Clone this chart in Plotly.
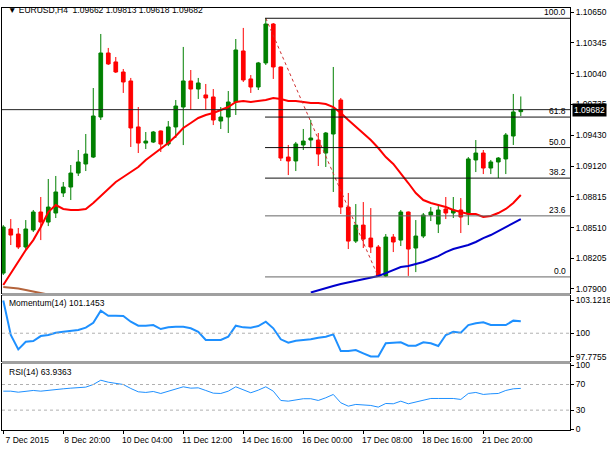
import plotly.graph_objects as go
from plotly.subplots import make_subplots

# EURUSD H4 bars (oldest first)
opens = [1.08058, 1.08496, 1.08446, 1.08317, 1.08486, 1.08665, 1.08565, 1.08655, 1.08854, 1.08913,
         1.09052, 1.09142, 1.09211, 1.09609, 1.10245, 1.10156, 1.10056, 1.09967, 1.09510, 1.09350,
         1.09360, 1.09470, 1.09340, 1.09510, 1.09708, 1.09967, 1.09887, 1.09828, 1.09808, 1.09569,
         1.09609, 1.09758, 1.10265, 1.09987, 1.09907, 1.10146, 1.10533, 1.10106, 1.09211, 1.09172,
         1.09331, 1.09380, 1.09380, 1.09251, 1.09440, 1.09778, 1.08714, 1.08376, 1.08535, 1.08406,
         1.08317, 1.08030, 1.08416, 1.08386, 1.08665, 1.08307, 1.08426, 1.08635, 1.08545, 1.08695,
         1.08655, 1.08685, 1.08645, 1.09182, 1.09251, 1.09102, 1.09162, 1.09192, 1.09420, 1.09662]
highs = [1.08535, 1.08595, 1.08506, 1.08585, 1.08685, 1.08814, 1.08993, 1.09023, 1.08963, 1.09132,
         1.09281, 1.09440, 1.09897, 1.10434, 1.10295, 1.10205, 1.10086, 1.09997, 1.09708, 1.09460,
         1.09470, 1.09475, 1.09569, 1.09778, 1.10305, 1.10076, 1.09997, 1.09937, 1.09887, 1.09708,
         1.09867, 1.10384, 1.10494, 1.10026, 1.10156, 1.10590, 1.10543, 1.10110, 1.09331, 1.09361,
         1.09490, 1.09579, 1.09450, 1.09460, 1.10106, 1.09798, 1.08854, 1.08744, 1.08764, 1.08704,
         1.08337, 1.08446, 1.08446, 1.08685, 1.08670, 1.08585, 1.08655, 1.08714, 1.08734, 1.08814,
         1.08814, 1.08804, 1.09211, 1.09380, 1.09281, 1.09182, 1.09211, 1.09450, 1.09838, 1.09813]
lows = [1.08039, 1.08337, 1.08297, 1.08287, 1.08466, 1.08386, 1.08525, 1.08605, 1.08814, 1.08784,
        1.09023, 1.09072, 1.09201, 1.09579, 1.10126, 1.10046, 1.09848, 1.09311, 1.09251, 1.09291,
        1.09350, 1.09261, 1.09320, 1.09400, 1.09330, 1.09679, 1.09788, 1.09679, 1.09529, 1.09490,
        1.09450, 1.09629, 1.09957, 1.09848, 1.09877, 1.10126, 1.09987, 1.09172, 1.09032, 1.09072,
        1.09281, 1.09310, 1.09122, 1.09112, 1.08864, 1.08645, 1.08297, 1.08357, 1.08307, 1.08257,
        1.08020, 1.08020, 1.08267, 1.08327, 1.08030, 1.08068, 1.08406, 1.08575, 1.08456, 1.08595,
        1.08605, 1.08456, 1.08535, 1.09062, 1.09042, 1.09042, 1.09003, 1.09042, 1.09331, 1.09618]
closes = [1.08516, 1.08436, 1.08317, 1.08496, 1.08665, 1.08565, 1.08714, 1.08864, 1.08913, 1.09052,
          1.09162, 1.09241, 1.09619, 1.10245, 1.10136, 1.10056, 1.09957, 1.09500, 1.09350, 1.09370,
          1.09460, 1.09340, 1.09510, 1.09718, 1.09967, 1.09887, 1.09947, 1.09798, 1.09579, 1.09609,
          1.09758, 1.10275, 1.09977, 1.09907, 1.10146, 1.10533, 1.10106, 1.09201, 1.09172, 1.09341,
          1.09370, 1.09400, 1.09241, 1.09450, 1.09689, 1.08714, 1.08376, 1.08535, 1.08396, 1.08317,
          1.08030, 1.08416, 1.08367, 1.08665, 1.08297, 1.08426, 1.08635, 1.08665, 1.08685, 1.08655,
          1.08685, 1.08615, 1.09192, 1.09251, 1.09102, 1.09162, 1.09201, 1.09430, 1.09659, 1.09682]

# moving averages as drawn (red fast, blue slow, brown slowest)
ma_red = [1.07939, 1.08058, 1.08168, 1.08287, 1.08386, 1.08516, 1.08665, 1.08734, 1.08695, 1.08685,
          1.08685, 1.08695, 1.08754, 1.08824, 1.08903, 1.08963, 1.09013, 1.09062, 1.09112, 1.09182,
          1.09241, 1.09291, 1.09351, 1.09420, 1.09500, 1.09549, 1.09599, 1.09629, 1.09649, 1.09679,
          1.09708, 1.09758, 1.09768, 1.09758, 1.09768, 1.09778, 1.09798, 1.09788, 1.09768, 1.09768,
          1.09758, 1.09748, 1.09748, 1.09738, 1.09708, 1.09649, 1.09579, 1.09510, 1.09450, 1.09380,
          1.09301, 1.09211, 1.09142, 1.09052, 1.08953, 1.08854, 1.08784, 1.08754, 1.08734, 1.08714,
          1.08685, 1.08665, 1.08645, 1.08645, 1.08615, 1.08625, 1.08655, 1.08695, 1.08754, 1.08834]
ma_blue = [None] * 41 + [1.07865, 1.07884, 1.07904, 1.07929, 1.07949, 1.07964, 1.07979, 1.07994, 1.08009,
                         1.08029, 1.08058, 1.08088, 1.08118, 1.08128, 1.08148, 1.08168, 1.08198, 1.08227,
                         1.08267, 1.08297, 1.08317, 1.08337, 1.08367, 1.08406, 1.08436, 1.08476, 1.08516,
                         1.08555, 1.08595]
ma_brown = [1.07919, 1.07914, 1.07904, 1.07889, 1.07874, 1.07859, 1.07845] + [None] * 63

momentum = [103.1218, 99.83, 98.46, 99.19, 99.26, 99.73, 99.83, 100.05, 100.14, 100.21,
            100.31, 100.53, 101.00, 102.15, 101.67, 101.67, 101.64, 101.10, 100.72, 100.72,
            100.78, 100.40, 100.56, 100.62, 100.62, 100.47, 100.14, 99.35, 99.35, 99.35,
            99.67, 100.72, 100.56, 100.53, 100.69, 101.10, 100.47, 99.42, 99.10, 99.29,
            99.35, 99.42, 99.57, 99.67, 99.89, 98.30, 98.30, 98.40, 98.08, 97.7755,
            97.78, 99.04, 99.10, 99.13, 98.81, 98.81, 99.13, 99.04, 98.78, 99.83,
            100.14, 100.05, 100.78, 100.95, 101.04, 100.78, 100.78, 100.78, 101.20, 101.1453]
rsi = [59.6, 59.6, 58.0, 59.1, 60.7, 59.6, 61.2, 62.2, 63.3, 64.3,
       65.4, 65.9, 70.0, 76.7, 73.6, 72.1, 70.0, 63.8, 58.6, 57.6,
       59.1, 56.0, 59.1, 62.7, 66.4, 64.3, 64.8, 60.7, 56.5, 56.0,
       59.6, 66.4, 61.2, 57.1, 61.2, 66.4, 59.6, 45.1, 44.0, 45.6,
       47.8, 47.8, 45.1, 49.3, 54.5, 41.5, 36.2, 38.9, 37.8, 37.3,
       34.7, 40.4, 39.9, 44.0, 39.9, 42.5, 45.6, 48.2, 48.2, 48.2,
       48.2, 46.7, 56.0, 57.6, 54.5, 55.5, 56.0, 60.7, 63.3, 63.9363]

time_labels = ["7 Dec 2015", "8 Dec 20:00", "10 Dec 04:00", "11 Dec 12:00", "14 Dec 16:00",
               "16 Dec 00:00", "17 Dec 08:00", "18 Dec 16:00", "21 Dec 20:00"]
price_ticks = [1.10650, 1.10345, 1.10040, 1.09735, 1.09430, 1.09120, 1.08815, 1.08510, 1.08205, 1.07900]
fib_ratios = [100.0, 61.8, 50.0, 38.2, 23.6, 0.0]

bars = list(range(len(closes)))
FONT = "Liberation Sans"
FS = 8.5
X_RANGE = [-0.17, 75.56]

fig = make_subplots(rows=3, cols=1, shared_xaxes=True)

fig.add_trace(go.Candlestick(
    x=bars, open=opens, high=highs, low=lows, close=closes,
    increasing=dict(line=dict(color="#008000", width=1), fillcolor="#008000"),
    decreasing=dict(line=dict(color="#ff0000", width=1), fillcolor="#ff0000"),
    whiskerwidth=0, showlegend=False), row=1, col=1)

fig.add_trace(go.Scatter(x=bars, y=ma_brown, mode="lines", line=dict(color="#b4643c", width=2),
                         showlegend=False), row=1, col=1)
fig.add_trace(go.Scatter(x=bars, y=ma_blue, mode="lines", line=dict(color="#0000cd", width=2),
                         showlegend=False), row=1, col=1)
fig.add_trace(go.Scatter(x=bars, y=ma_red, mode="lines", line=dict(color="#ff0000", width=2),
                         showlegend=False), row=1, col=1)

# fibonacci retracement from swing high to swing low
hi_val = max(highs)
lo_val = min(lows)
hi_idx = highs.index(hi_val)
lo_idx = lows.index(lo_val)
fig.add_trace(go.Scatter(x=[hi_idx, lo_idx], y=[hi_val, lo_val], mode="lines",
                         line=dict(color="#d03030", width=1, dash="dot"), showlegend=False),
              row=1, col=1)

for r in fib_ratios:
    lvl = lo_val + (hi_val - lo_val) * r / 100
    col = "#111111" if r > 30 else "#666666"
    fig.add_shape(type="line", xref="x", yref="y", x0=hi_idx - 0.1, x1=X_RANGE[1], y0=lvl, y1=lvl,
                  line=dict(color=col, width=1))
    fig.add_annotation(xref="paper", yref="y", x=0.997, y=lvl, text=f"{r:.1f}", showarrow=False,
                       xanchor="right", yanchor="bottom", yshift=-1,
                       font=dict(family=FONT, size=FS, color="black"))

# current price line
fig.add_hline(y=closes[-1], line=dict(color="#222222", width=1), row=1, col=1)

fig.add_trace(go.Scatter(x=bars, y=momentum, mode="lines", line=dict(color="#1e90ff", width=2),
                         showlegend=False), row=2, col=1)
fig.add_hline(y=100, line=dict(color="#b0b0b0", width=1, dash="dot"), row=2, col=1)

fig.add_trace(go.Scatter(x=bars, y=rsi, mode="lines", line=dict(color="#1e90ff", width=1),
                         showlegend=False), row=3, col=1)
fig.add_hline(y=70, line=dict(color="#b0b0b0", width=1, dash="dot"), row=3, col=1)
fig.add_hline(y=30, line=dict(color="#b0b0b0", width=1, dash="dot"), row=3, col=1)

axis_common = dict(showline=True, mirror=True, linecolor="black", linewidth=1, showgrid=False,
                   zeroline=False)
tickfont = dict(family=FONT, size=FS, color="black")

for i in (1, 2, 3):
    fig.update_xaxes(range=X_RANGE, row=i, col=1, **axis_common)
fig.update_xaxes(rangeslider_visible=False, row=1, col=1)
fig.update_xaxes(tickvals=bars[::8], ticktext=time_labels, ticks="outside", ticklen=3,
                 tickcolor="black", tickfont=tickfont, ticklabelshift=24, ticklabelstandoff=-1,
                 showticklabels=True, row=3, col=1)

fig.update_yaxes(side="right", ticks="outside", ticklen=3, tickcolor="black", tickfont=tickfont,
                 **axis_common)
fig.update_yaxes(range=[1.0786, 1.10692], tickvals=price_ticks,
                 ticktext=[f"{v:.5f}" for v in price_ticks], row=1, col=1)
fig.update_yaxes(range=[97.35, 103.55], tickvals=[103.1218, 100, 97.7755],
                 ticktext=["103.1218", "100", "97.7755"], row=2, col=1)
fig.update_yaxes(range=[-1, 102], tickvals=[100, 70, 30, 0], ticktext=["100", "70", "30", "0"],
                 row=3, col=1)

fig.update_layout(
    yaxis=dict(domain=[0.3246, 1.0]),
    yaxis2=dict(domain=[0.1635, 0.3175]),
    yaxis3=dict(domain=[0.0, 0.1564]),
)

# grey separators between panels
for y0, y1 in [(0.3175, 0.3246), (0.1564, 0.1635)]:
    fig.add_shape(type="rect", xref="paper", yref="paper", x0=0, x1=1, y0=y0, y1=y1,
                  fillcolor="#a0a0a0", line=dict(width=0))

# header texts
fig.add_annotation(xref="paper", yref="paper", x=0.007, y=0.995, xanchor="left", yanchor="middle",
                   text="▼ EURUSD,H4  1.09662 1.09813 1.09618 1.09682", showarrow=False,
                   font=dict(family=FONT, size=FS, color="black"))
fig.add_annotation(xref="paper", yref="paper", x=0.008, y=0.3, xanchor="left", yanchor="middle",
                   text=f"Momentum(14) {momentum[-1]:.4f}", showarrow=False,
                   font=dict(family=FONT, size=FS, color="black"))
fig.add_annotation(xref="paper", yref="paper", x=0.008, y=0.138, xanchor="left", yanchor="middle",
                   text=f"RSI(14) {rsi[-1]:.4f}", showarrow=False,
                   font=dict(family=FONT, size=FS, color="black"))

# last price tag on the price scale
fig.add_annotation(xref="paper", yref="y", x=1.0, y=closes[-1], xanchor="left", yanchor="middle",
                   xshift=2, text=f"{closes[-1]:.5f}", showarrow=False, bgcolor="black",
                   borderpad=1, font=dict(family=FONT, size=FS, color="white"))

fig.update_layout(
    width=610, height=450,
    margin=dict(l=2, r=40, t=8, b=20, autoexpand=False),
    paper_bgcolor="white", plot_bgcolor="white",
    showlegend=False, hovermode=False,
)

# the page body has a default 8px margin; drop it so the figure fills the window
fig.write_html("out.html", config={"displayModeBar": False},
               post_script="document.body.style.margin='0';")
